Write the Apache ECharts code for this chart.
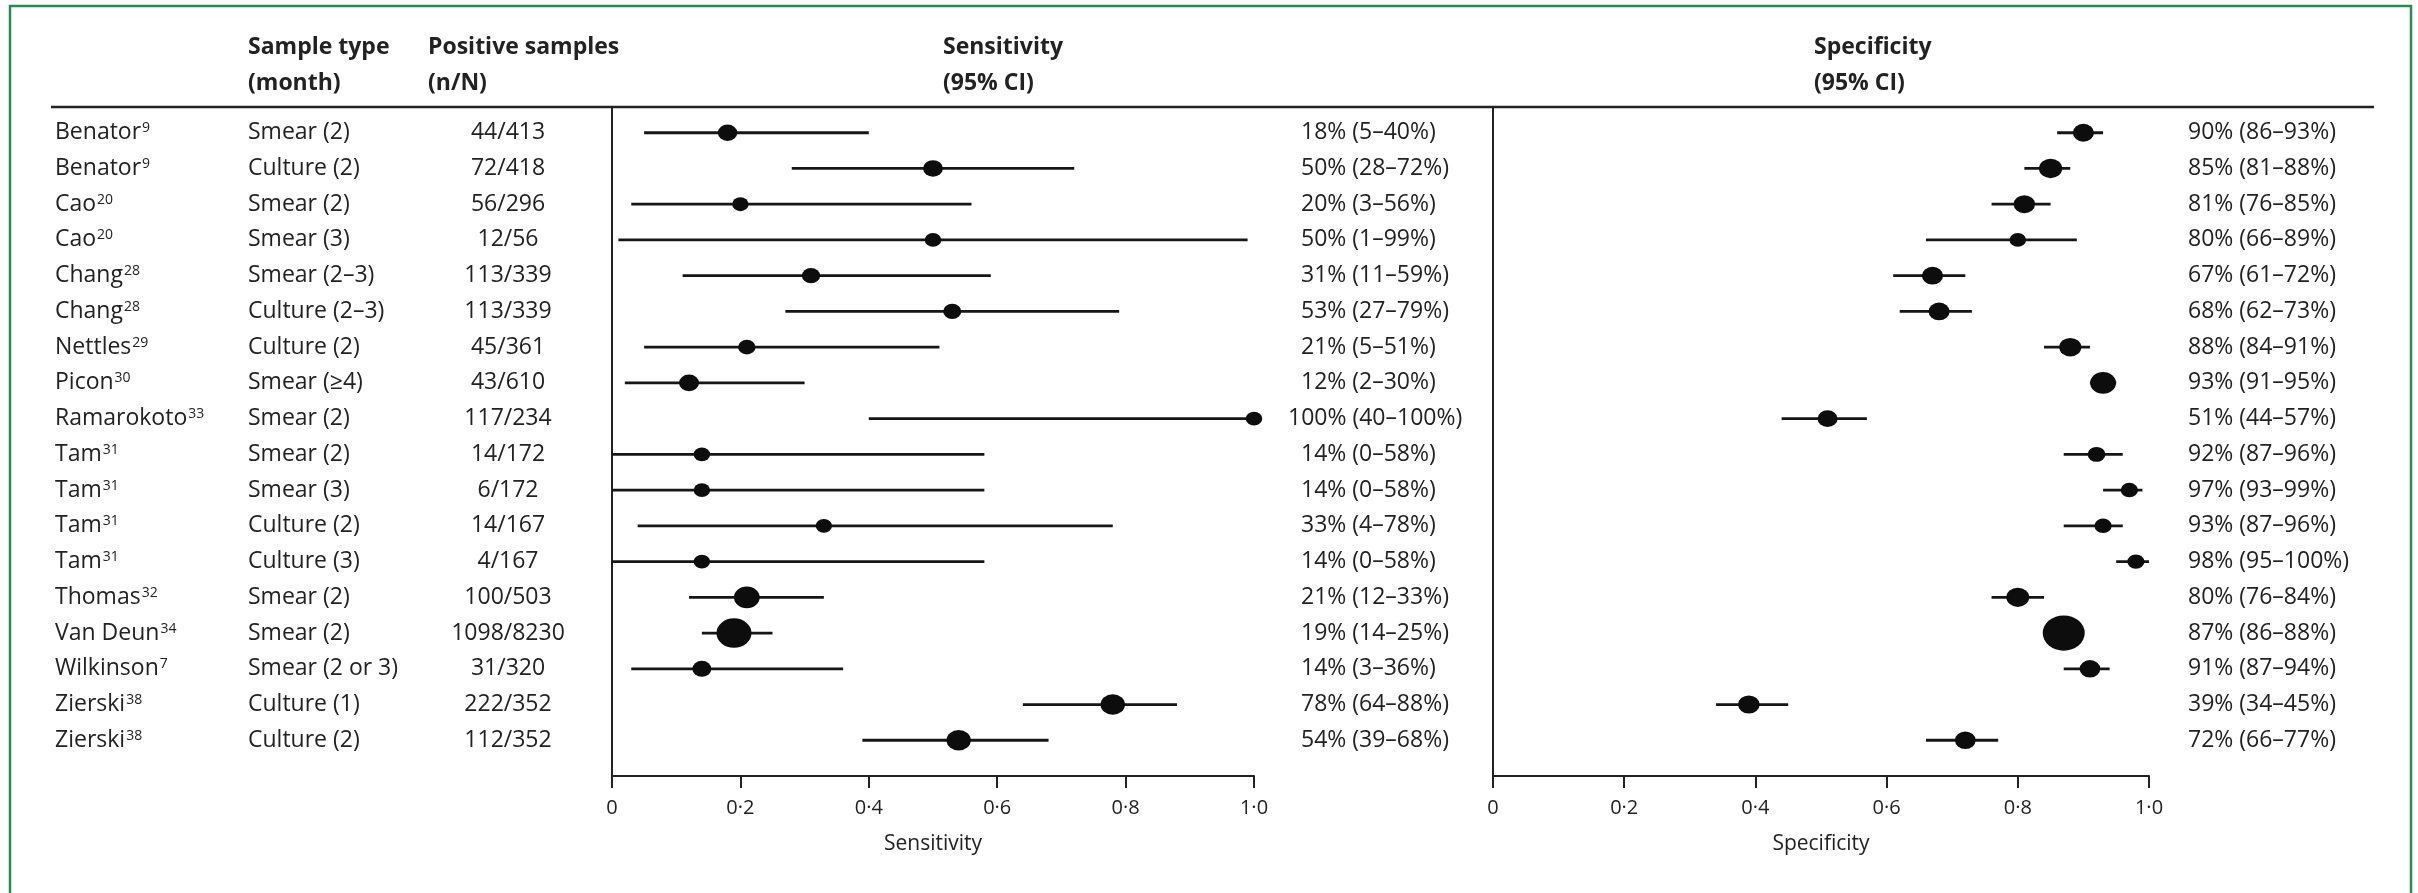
<!DOCTYPE html>
<html>
<head>
<meta charset="utf-8">
<title>Sensitivity and specificity of follow-up smear and culture</title>
<script src="https://cdn.jsdelivr.net/npm/echarts@6/dist/echarts.min.js"></script>
<style>
  html, body { margin: 0; padding: 0; background: #ffffff; }
  #chart { width: 2418px; height: 893px; }
</style>
</head>
<body>
<div id="chart"></div>
<script>
// ---- Study rows, top to bottom ----
const studies = ['Benator', 'Benator', 'Cao', 'Cao', 'Chang', 'Chang', 'Nettles', 'Picon', 'Ramarokoto',
  'Tam', 'Tam', 'Tam', 'Tam', 'Thomas', 'Van Deun', 'Wilkinson', 'Zierski', 'Zierski'];
const refs = ['9', '9', '20', '20', '28', '28', '29', '30', '33', '31', '31', '31', '31', '32', '34', '7', '38', '38'];
const sampleTypes = ['Smear (2)', 'Culture (2)', 'Smear (2)', 'Smear (3)', 'Smear (2–3)', 'Culture (2–3)',
  'Culture (2)', 'Smear (≥4)', 'Smear (2)', 'Smear (2)', 'Smear (3)', 'Culture (2)', 'Culture (3)',
  'Smear (2)', 'Smear (2)', 'Smear (2 or 3)', 'Culture (1)', 'Culture (2)'];
const positiveSamples = ['44/413', '72/418', '56/296', '12/56', '113/339', '113/339', '45/361', '43/610',
  '117/234', '14/172', '6/172', '14/167', '4/167', '100/503', '1098/8230', '31/320', '222/352', '112/352'];

// ---- Sensitivity, % (estimate and 95% CI) ----
const sensEst  = [18, 50, 20, 50, 31, 53, 21, 12, 100, 14, 14, 33, 14, 21, 19, 14, 78, 54];
const sensLow  = [ 5, 28,  3,  1, 11, 27,  5,  2,  40,  0,  0,  4,  0, 12, 14,  3, 64, 39];
const sensHigh = [40, 72, 56, 99, 59, 79, 51, 30, 100, 58, 58, 78, 58, 33, 25, 36, 88, 68];

// ---- Specificity, % (estimate and 95% CI) ----
const specEst  = [90, 85, 81, 80, 67, 68, 88, 93, 51, 92, 97, 93,  98, 80, 87, 91, 39, 72];
const specLow  = [86, 81, 76, 66, 61, 62, 84, 91, 44, 87, 93, 87,  95, 76, 86, 87, 34, 66];
const specHigh = [93, 88, 85, 89, 72, 73, 91, 95, 57, 96, 99, 96, 100, 84, 88, 94, 45, 77];

// ---- Shared x-axis ticks ----
const tickValues = [0, 0.2, 0.4, 0.6, 0.8, 1.0];
const tickLabels = ['0', '0·2', '0·4', '0·6', '0·8', '1·0'];

// ---------------------------------------------------------------
const ink = '#222222';
const FONT = '"Open Sans", "Liberation Sans", sans-serif';
const rows = studies.map((_, i) => i);
const yMin = -0.72, yMax = 18;

// Effective binomial sample size implied by an estimate and its 95% CI
function effectiveN(p, lo, hi) {
  if (p >= 0.995) return Math.log(0.025) / Math.log(lo);
  if (p <= 0.005) return Math.log(0.025) / Math.log(1 - hi);
  const se = (hi - lo) / 3.92;
  return p * (1 - p) / (se * se);
}
// Marker width grows with study precision, scaled within each panel
function markerWidths(est, low, high, maxWidth) {
  const n = est.map((p, i) => effectiveN(p / 100, low[i] / 100, high[i] / 100));
  const nMax = Math.max(...n);
  return n.map(v => Math.max(16.5, maxWidth * Math.pow(v / nMax, 0.25)));
}
const sensSize = markerWidths(sensEst, sensLow, sensHigh, 35);
const specSize = markerWidths(specEst, specLow, specHigh, 42);

function tickFormatter(v) {
  const k = tickValues.findIndex(t => Math.abs(t - v) < 1e-6);
  return k >= 0 ? tickLabels[k] : '';
}

const rowAxis = {
  type: 'value', inverse: true, min: yMin, max: yMax,
  splitLine: { show: false }, axisTick: { show: false }
};
const textLabel = { color: ink, fontFamily: FONT, fontSize: 23, customValues: rows };

function xAxisFor(gridIndex, name) {
  return {
    gridIndex, type: 'value', min: 0, max: 1, interval: 0.2,
    axisLine: { show: true, onZero: false, lineStyle: { color: ink, width: 2 } },
    axisTick: { show: true, inside: false, length: 12, lineStyle: { color: ink, width: 2 } },
    axisLabel: { formatter: tickFormatter, color: ink, fontFamily: FONT, fontSize: 20, margin: 22 },
    splitLine: { show: false },
    name, nameLocation: 'middle', nameGap: 58,
    nameTextStyle: { color: ink, fontFamily: FONT, fontSize: 21 }
  };
}

function ciSeries(axisIndex, low, high) {
  return {
    type: 'custom', xAxisIndex: axisIndex, yAxisIndex: axisIndex === 0 ? 0 : 5,
    data: low.map((lo, i) => [lo / 100, high[i] / 100, i]),
    encode: { x: [0, 1], y: 2 },
    clip: false, silent: true, z: 2,
    renderItem(params, api) {
      const y = api.value(2);
      const a = api.coord([api.value(0), y]);
      const b = api.coord([api.value(1), y]);
      return {
        type: 'line',
        shape: { x1: a[0], y1: a[1], x2: b[0], y2: b[1] },
        style: { stroke: '#161616', lineWidth: 2.8 }
      };
    }
  };
}

function pointSeries(axisIndex, est, widths) {
  return {
    type: 'scatter', xAxisIndex: axisIndex, yAxisIndex: axisIndex === 0 ? 0 : 5,
    data: est.map((v, i) => [v / 100, i]),
    symbol: 'circle',
    symbolSize: (val, params) => [widths[params.dataIndex], widths[params.dataIndex] * 0.84],
    itemStyle: { color: '#0d0d0d', opacity: 1 },
    clip: false, silent: true, z: 3
  };
}

const headerFont = { fontFamily: FONT, fontSize: 23, fontWeight: 'bold', fill: ink, verticalAlign: 'middle' };
function header(text, x, y) {
  return { type: 'text', x, y, silent: true, style: Object.assign({ text }, headerFont) };
}

const option = {
  animation: false,
  backgroundColor: '#ffffff',
  textStyle: { fontFamily: FONT },
  grid: [
    { left: 612, top: 107, width: 642, height: 669, containLabel: false, outerBoundsMode: 'none' },
    { left: 1493, top: 107, width: 656, height: 669, containLabel: false, outerBoundsMode: 'none' }
  ],
  xAxis: [xAxisFor(0, 'Sensitivity'), xAxisFor(1, 'Specificity')],
  yAxis: [
    // 0: sensitivity panel frame line
    Object.assign({}, rowAxis, {
      gridIndex: 0, position: 'left',
      axisLine: { show: true, onZero: false, lineStyle: { color: ink, width: 2 } },
      axisLabel: { show: false }
    }),
    // 1: study names with reference numbers
    Object.assign({}, rowAxis, {
      gridIndex: 0, position: 'left', axisLine: { show: false },
      axisLabel: Object.assign({}, textLabel, {
        align: 'left', margin: 557,
        formatter: v => { const i = Math.round(v); return studies[i] + '{s|' + refs[i] + '}'; },
        rich: { s: { fontSize: 14, verticalAlign: 'top', color: ink, fontFamily: FONT, padding: [0, 0, 0, 1] } }
      })
    }),
    // 2: sample type (month)
    Object.assign({}, rowAxis, {
      gridIndex: 0, position: 'left', axisLine: { show: false },
      axisLabel: Object.assign({}, textLabel, {
        align: 'left', margin: 364,
        formatter: v => sampleTypes[Math.round(v)]
      })
    }),
    // 3: positive samples n/N
    Object.assign({}, rowAxis, {
      gridIndex: 0, position: 'left', axisLine: { show: false },
      axisLabel: Object.assign({}, textLabel, {
        align: 'center', margin: 104,
        formatter: v => positiveSamples[Math.round(v)]
      })
    }),
    // 4: sensitivity estimate text; two-digit estimates are indented so the % signs line up
    Object.assign({}, rowAxis, {
      gridIndex: 0, position: 'right', axisLine: { show: false },
      axisLabel: Object.assign({}, textLabel, {
        align: 'left', margin: 34,
        formatter: v => {
          const i = Math.round(v);
          const style = String(sensEst[i]).length > 2 ? 'w' : 'n';
          return '{' + style + '|' + sensEst[i] + '% (' + sensLow[i] + '–' + sensHigh[i] + '%)}';
        },
        rich: {
          w: { color: ink, fontFamily: FONT, fontSize: 23 },
          n: { color: ink, fontFamily: FONT, fontSize: 23, padding: [0, 0, 0, 13] }
        }
      })
    }),
    // 5: specificity panel frame line
    Object.assign({}, rowAxis, {
      gridIndex: 1, position: 'left',
      axisLine: { show: true, onZero: false, lineStyle: { color: ink, width: 2 } },
      axisLabel: { show: false }
    }),
    // 6: specificity estimate text
    Object.assign({}, rowAxis, {
      gridIndex: 1, position: 'right', axisLine: { show: false },
      axisLabel: Object.assign({}, textLabel, {
        align: 'left', margin: 39,
        formatter: v => {
          const i = Math.round(v);
          return specEst[i] + '% (' + specLow[i] + '–' + specHigh[i] + '%)';
        }
      })
    })
  ],
  series: [
    ciSeries(0, sensLow, sensHigh),
    pointSeries(0, sensEst, sensSize),
    ciSeries(1, specLow, specHigh),
    pointSeries(1, specEst, specSize)
  ],
  graphic: [
    // panel frame
    { type: 'rect', silent: true, z: -1,
      shape: { x: 10, y: 6, width: 2401, height: 905 },
      style: { fill: 'none', stroke: '#2a8a55', lineWidth: 2.5 } },
    // rule under the column headings
    { type: 'line', silent: true,
      shape: { x1: 51, y1: 107, x2: 2374, y2: 107 },
      style: { stroke: ink, lineWidth: 2.4 } },
    header('Sample type', 248, 47),
    header('(month)', 248, 83),
    header('Positive samples', 428, 47),
    header('(n/N)', 428, 83),
    header('Sensitivity', 943, 47),
    header('(95% CI)', 943, 83),
    header('Specificity', 1814, 47),
    header('(95% CI)', 1814, 83)
  ]
};

const chart = echarts.init(document.getElementById('chart'), null, { renderer: 'canvas' });
chart.setOption(option);
</script>
</body>
</html>
